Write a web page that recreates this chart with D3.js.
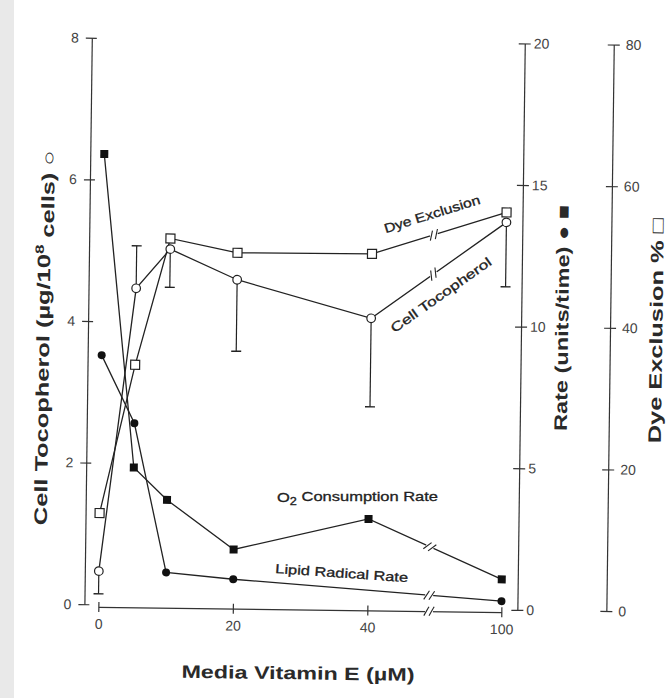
<!DOCTYPE html>
<html><head><meta charset="utf-8">
<script src="https://cdn.jsdelivr.net/npm/d3@7"></script>
<style>body{margin:0;background:#fff}svg{display:block}</style>
</head><body>
<svg id="c" width="669" height="698"></svg>
<script>
// ---- data ----
const xValues = [0, 5, 10, 20, 40, 100];
const tocopherol = [0.47, 4.47, 5.03, 4.61, 4.09, 5.47];
const tocopherolErrEnd = [0.15, 5.07, 4.49, 3.60, 2.84, 4.56];
const dyeExclusion = [12.9, 33.9, 51.8, 49.9, 50.0, 56.1];
const o2Rate = [15.9, 4.85, 3.72, 2.0, 3.14, 1.07];
const lipidX = [0, 5, 10, 20, 100];
const lipidRate = [8.8, 6.41, 1.16, 0.95, 0.30];
const xTicks = [0, 20, 40, 100];
const leftTicks = [0, 2, 4, 6, 8];
const rateTicks = [0, 5, 10, 15, 20];
const dyeTicks = [0, 20, 40, 60, 80];

const FONT = "Liberation Sans, Arial, Helvetica, sans-serif";
const INK = "#222";

const svg = d3.select("#c");
svg.append("rect").attr("x", 0).attr("y", 0).attr("width", 14).attr("height", 698).attr("fill", "#e9e9e9");

const root = svg.append("g").attr("transform", "rotate(0.75,300,330)");

const x = d3.scaleLinear().domain([0, 40, 100]).range([102, 371, 505]);
const yL = d3.scaleLinear().domain([0, 8]).range([607, 40.5]);
const yR = d3.scaleLinear().domain([0, 20]).range([607, 40.5]);
const yD = d3.scaleLinear().domain([0, 80]).range([607, 40.5]);
const breakX = x(40) + 0.46 * (x(100) - x(40));

function styleAxis(g) {
  g.attr("font-family", FONT).attr("font-size", 14);
  g.selectAll("path, line").attr("stroke", "#333").attr("stroke-width", 1.2);
  g.selectAll("text").attr("fill", "#444");
}

// left axis
const gL = root.append("g").attr("transform", "translate(88,0)")
  .call(d3.axisLeft(yL).tickValues(leftTicks).tickSize(6).tickPadding(7).tickSizeOuter(0));
gL.selectAll(".tick line").attr("x1", 5);
styleAxis(gL);

// rate axis
const gR = root.append("g").attr("transform", "translate(521,0)")
  .call(d3.axisRight(yR).tickValues(rateTicks).tickSize(6).tickPadding(3).tickSizeOuter(0));
gR.selectAll(".tick line").attr("x1", -6);
styleAxis(gR);

// dye axis
const gD = root.append("g").attr("transform", "translate(610,0)")
  .call(d3.axisRight(yD).tickValues(dyeTicks).tickSize(6).tickPadding(6).tickSizeOuter(0));
gD.selectAll(".tick line").attr("x1", -6);
styleAxis(gD);

// x axis
const gX = root.append("g").attr("transform", "translate(0,609.5)")
  .call(d3.axisBottom(x).tickValues(xTicks).tickSize(5).tickPadding(7).tickSizeOuter(0));
gX.selectAll(".tick line").attr("y1", -5);
styleAxis(gX);

function addBreak(g, px, py, ang) {
  const b = g.append("g").attr("transform", `translate(${px},${py}) rotate(${ang})`);
  b.append("line").attr("x1", -4).attr("x2", 4).attr("y1", 0).attr("y2", 0)
    .attr("stroke", "#fff").attr("stroke-width", 5);
  [-2.6, 2.6].forEach(o => {
    b.append("line").attr("x1", o - 2.5).attr("y1", 4.5).attr("x2", o + 2.5).attr("y2", -4.5)
      .attr("stroke", INK).attr("stroke-width", 1.1);
  });
}
addBreak(root, breakX, 609.5, 0);

function drawSeries(xs, ys, yScale) {
  const pts = xs.map((v, i) => [x(v), yScale(ys[i])]);
  root.append("path").attr("d", d3.line()(pts)).attr("fill", "none")
    .attr("stroke", INK).attr("stroke-width", 1.3);
  for (let i = 0; i < pts.length - 1; i++) {
    const a = pts[i], c = pts[i + 1];
    if (a[0] < breakX && c[0] > breakX) {
      const t = (breakX - a[0]) / (c[0] - a[0]);
      const py = a[1] + t * (c[1] - a[1]);
      const ang = Math.atan2(c[1] - a[1], c[0] - a[0]) * 180 / Math.PI;
      addBreak(root, breakX, py, ang);
    }
  }
  return pts;
}

const ptsDye = drawSeries(xValues, dyeExclusion, yD);
const ptsToc = drawSeries(xValues, tocopherol, yL);
const ptsO2 = drawSeries(xValues, o2Rate, yR);
const ptsLip = drawSeries(lipidX, lipidRate, yR);

// error bars
xValues.forEach((v, i) => {
  const cx = x(v), y0 = yL(tocopherol[i]), y1 = yL(tocopherolErrEnd[i]);
  root.append("line").attr("x1", cx).attr("x2", cx).attr("y1", y0).attr("y2", y1)
    .attr("stroke", INK).attr("stroke-width", 1.2);
  root.append("line").attr("x1", cx - 5).attr("x2", cx + 5).attr("y1", y1).attr("y2", y1)
    .attr("stroke", INK).attr("stroke-width", 1.4);
});

// markers
root.selectAll(null).data(ptsDye).join("rect")
  .attr("x", d => d[0] - 4.5).attr("y", d => d[1] - 4.5).attr("width", 9).attr("height", 9)
  .attr("fill", "#fff").attr("stroke", INK).attr("stroke-width", 1.2);
root.selectAll(null).data(ptsToc).join("circle")
  .attr("cx", d => d[0]).attr("cy", d => d[1]).attr("r", 4.3)
  .attr("fill", "#fff").attr("stroke", INK).attr("stroke-width", 1.2);
root.selectAll(null).data(ptsO2).join("rect")
  .attr("x", d => d[0] - 4).attr("y", d => d[1] - 4).attr("width", 8).attr("height", 8)
  .attr("fill", "#111");
root.selectAll(null).data(ptsLip).join("circle")
  .attr("cx", d => d[0]).attr("cy", d => d[1]).attr("r", 4)
  .attr("fill", "#111");

// annotations
function ann(px, py, ang, len) {
  return root.append("text").attr("transform", `translate(${px},${py}) rotate(${ang})`)
    .attr("text-anchor", "middle").attr("dy", "0.35em")
    .attr("font-family", FONT).attr("font-size", 13).attr("fill", INK)
    .attr("stroke", INK).attr("stroke-width", 0.3)
    .attr("textLength", len).attr("lengthAdjust", "spacingAndGlyphs");
}
ann(430.5, 212.3, -18, 100).text("Dye Exclusion");
ann(440.5, 293, -36, 120).text("Cell Tocopherol");
const o2t = ann(359.7, 496.2, -0.75, 161);
o2t.append("tspan").text("O");
o2t.append("tspan").attr("font-size", 10).attr("dy", "0.3em").text("2");
o2t.append("tspan").attr("dy", "-0.3em").text(" Consumption Rate");
ann(344.9, 572.5, 3.2, 133).text("Lipid Radical Rate");

// axis titles
function title(px, py, ang, len) {
  return root.append("text").attr("transform", `translate(${px},${py}) rotate(${ang})`)
    .attr("text-anchor", "middle").attr("dy", "0.35em")
    .attr("font-family", FONT).attr("font-size", 18).attr("font-weight", "bold").attr("fill", "#2a2a2a")
    .attr("textLength", len).attr("lengthAdjust", "spacingAndGlyphs");
}
const tl = title(43, 341, -90, 375);
tl.append("tspan").text("Cell Tocopherol (\u00b5g/10");
tl.append("tspan").attr("font-size", 12).attr("dy", "-0.55em").text("8");
tl.append("tspan").attr("dy", "0.55em").text(" cells) \u25cb");
title(561.8, 314.6, -90, 226).text("Rate (units/time) \u25cf \u25a0");
title(656, 326, -90, 225).text("Dye Exclusion % \u25a1");
title(302.5, 673, 0, 233).text("Media Vitamin E (\u00b5M)");
</script>
</body></html>
